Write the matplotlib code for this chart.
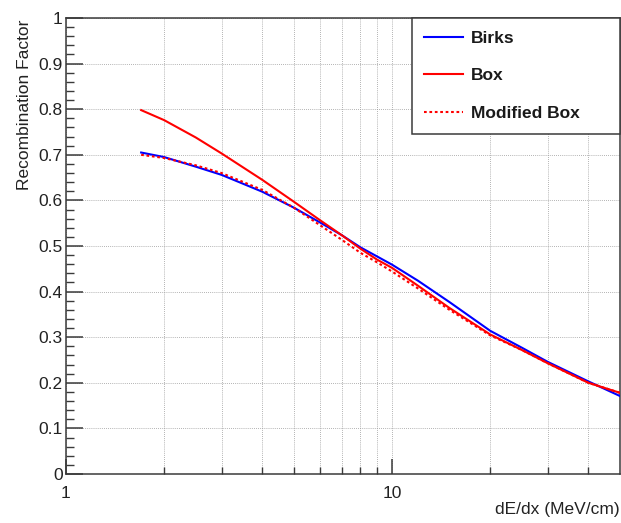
import matplotlib
matplotlib.use("Agg")
import matplotlib.pyplot as plt
from matplotlib.ticker import FixedLocator, FuncFormatter, NullFormatter, MultipleLocator

plt.rcParams['font.family'] = ['Liberation Sans', 'DejaVu Sans']

# dE/dx sample points (MeV/cm) and recombination factor for each model
dedx = [1.7, 2, 2.5, 3, 4, 5, 6, 7, 8, 9, 10, 12, 15, 20, 25, 30, 40, 50]
birks = [0.705, 0.695, 0.674, 0.656, 0.619, 0.584, 0.552, 0.524, 0.497, 0.477,
         0.459, 0.424, 0.377, 0.314, 0.277, 0.246, 0.203, 0.171]
box = [0.798, 0.776, 0.738, 0.703, 0.645, 0.597, 0.557, 0.524, 0.494, 0.470,
       0.452, 0.413, 0.364, 0.306, 0.272, 0.243, 0.200, 0.178]
mod_box = [0.700, 0.693, 0.677, 0.660, 0.623, 0.584, 0.546, 0.514, 0.485, 0.464,
           0.444, 0.407, 0.360, 0.304, 0.272, 0.243, 0.200, 0.178]

series_labels = ["Birks", "Box", "Modified Box"]
x_title = "dE/dx (MeV/cm)"
y_title = "Recombination Factor"

W, H = 621, 523
fig = plt.figure(figsize=(W / 100, H / 100), dpi=100)
ax = fig.add_axes([66 / W, 1 - 474 / H, 554 / W, 456 / H])

ax.plot(dedx, birks, color='#0000ff', lw=1.5, label=series_labels[0], zorder=3)
ax.plot(dedx, box, color='#ff0000', lw=1.5, label=series_labels[1], zorder=3)
ax.plot(dedx, mod_box, color='#ff0000', lw=1.5, linestyle=(0, (1.3, 1.3)),
        label=series_labels[2], zorder=3)

ax.set_xscale('log')
ax.set_xlim(1, 50)
ax.set_ylim(0, 1)

frame_col = '#3a3a3a'
for s in ax.spines.values():
    s.set_color(frame_col)
    s.set_linewidth(1.1)

# x axis: decade ticks labelled, sub-decade ticks unlabelled
ax.xaxis.set_major_locator(FixedLocator([1, 10]))
ax.xaxis.set_major_formatter(FuncFormatter(lambda v, p: "%g" % v))
ax.xaxis.set_minor_locator(FixedLocator([2, 3, 4, 5, 6, 7, 8, 9, 20, 30, 40]))
ax.xaxis.set_minor_formatter(NullFormatter())

ax.yaxis.set_major_locator(MultipleLocator(0.1))
ax.yaxis.set_major_formatter(FuncFormatter(lambda v, p: "%g" % round(v, 2)))
ax.yaxis.set_minor_locator(MultipleLocator(0.02))

ax.tick_params(axis='both', which='both', direction='in', color=frame_col,
               labelcolor='#222222', labelsize=12.5, top=False, right=False)
ax.tick_params(axis='y', which='major', length=12, width=1.1, pad=2.5)
ax.tick_params(axis='y', which='minor', length=6, width=1.0)
ax.tick_params(axis='x', which='major', length=11, width=1.1, pad=9)
ax.tick_params(axis='x', which='minor', length=5, width=1.0)

grid_style = dict(color='#9a9a9a', lw=0.6, linestyle=(0, (1, 1.5)))
ax.grid(True, axis='x', which='both', **grid_style)
ax.grid(True, axis='y', which='major', **grid_style)
ax.set_axisbelow(True)

ax.set_xlabel(x_title, fontsize=12.5, color='#222222', loc='right')
ax.xaxis.set_label_coords(1.0, -0.062)
ax.set_ylabel(y_title, fontsize=12.5, color='#222222', loc='top')
ax.yaxis.set_label_coords(-0.061, 0.996)

leg = ax.legend(loc='upper left', bbox_to_anchor=(0.6245, 0.75, 0.3755, 0.25),
                mode='expand', borderaxespad=0, frameon=True, fancybox=False,
                handlelength=2.2, handletextpad=0.5, labelspacing=1.3,
                borderpad=0.72, prop={'weight': 'bold', 'size': 12.5})
leg.get_frame().set_edgecolor(frame_col)
leg.get_frame().set_linewidth(1.1)
leg.get_frame().set_alpha(1)
for t in leg.get_texts():
    t.set_color('#1a1a1a')

fig.savefig('out.png', dpi=100)
